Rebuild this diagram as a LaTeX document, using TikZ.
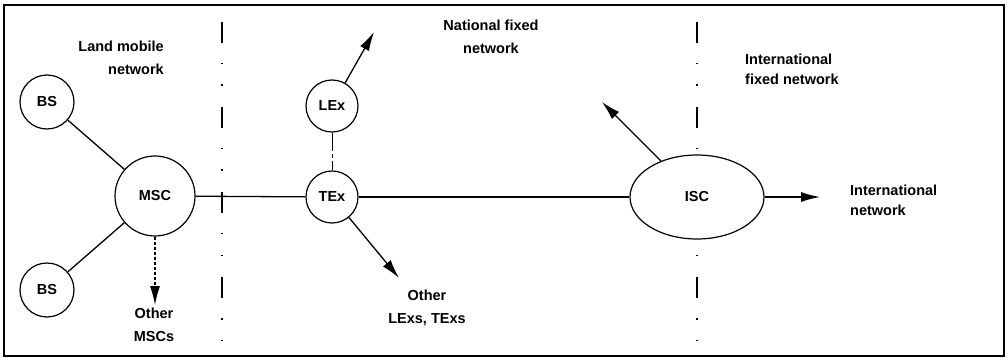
\documentclass[tikz,border=0pt]{standalone}
\usepackage{fontspec}
\setmainfont{Liberation Sans}
\usetikzlibrary{arrows.meta,shapes.geometric}
\begin{document}
\begin{tikzpicture}[x=1pt,y=-1pt,
  every node/.style={font=\fontsize{14.5}{17}\selectfont\bfseries},
  station/.style={circle,draw,fill=white,line width=1.2pt,inner sep=0pt},
  link/.style={line width=1.3pt},
  flow/.style={line width=1.3pt,-{Latex[length=19pt,width=10pt]}},
  divider/.style={line width=1.4pt,
    dash pattern=on 21pt off 20pt on 1.5pt off 20pt on 1.5pt off 21pt},
  caption/.style={font=\fontsize{14.5}{23}\selectfont\bfseries,inner sep=0pt},
]
\useasboundingbox (0,0) rectangle (1008,363);
% outer frame
\draw[line width=2pt] (4,5) rectangle (1004,356);

% boundaries between the network domains
\coordinate (d1top) at (222,22);
\coordinate (d1bot) at (222,340);
\coordinate (d2top) at (697,22);
\coordinate (d2bot) at (697,340);
\draw[divider] (d1top) -- (d1bot);
\draw[divider] (d2top) -- (d2bot);

% domain captions
\node[caption,align=right,anchor=east] (landcap) at (164,58) {Land mobile\\network};
\node[caption,align=center] (natcap) at (491,37) {National fixed\\network};
\node[caption,align=left,anchor=west,
      font=\fontsize{14.5}{20}\selectfont\bfseries] (intcap) at (745,69) {International\\fixed network};

% exchange centres
\coordinate (bs1c) at (47,102);
\coordinate (bs2c) at (47,290);
\coordinate (mscc) at (155,196);
\coordinate (lexc) at (332,106);
\coordinate (texc) at (332,197);
\coordinate (iscc) at (697,197);

% exchanges (white fill hides the domain boundary behind the ISC)
\node[station,minimum size=54pt] (bs1) at (bs1c) {BS};
\node[station,minimum size=54pt] (bs2) at (bs2c) {BS};
\node[station,minimum size=80pt] (msc) at (mscc) {MSC};
\node[station,minimum size=52pt] (lex) at (lexc) {LEx};
\node[station,minimum size=52pt] (tex) at (texc) {TEx};
\node[ellipse,draw,fill=white,line width=1.2pt,minimum width=134pt,minimum height=84pt,
      inner sep=0pt] (isc) at (iscc) {ISC};

% destinations
\node[caption,align=center] (othmsc) at (154,325) {Other\\MSCs};
\node[caption,align=center] (othex) at (427,308) {Other\\LExs, TExs};
\node[caption,align=left,anchor=west,
      font=\fontsize{14.5}{20}\selectfont\bfseries] (intnet) at (850,200) {International\\network};

% free arrow ends
\coordinate (lexout) at (374,32);
\coordinate (texout) at (399,278);
\coordinate (mscout) at (155,305);
\coordinate (iscup) at (602,102);
\coordinate (iscout) at (820,197);

% links between exchanges
\draw[link] (bs1) -- (msc);
\draw[link] (bs2) -- (msc);
\draw[link] (msc) -- (tex);
\draw[link] (tex) -- (isc);
\draw[line width=1pt,dash pattern=on 18pt off 3pt on 4pt off 3pt] (lex) -- (tex);
\draw[flow] (lex) -- (lexout);
\draw[flow] (tex) -- (texout);
\draw[flow,dash pattern=on 3pt off 2pt,line width=1.1pt] (msc) -- (mscout);
\draw[flow] (isc) -- (iscup);
\draw[flow] (isc) -- (iscout);
\end{tikzpicture}
\end{document}
